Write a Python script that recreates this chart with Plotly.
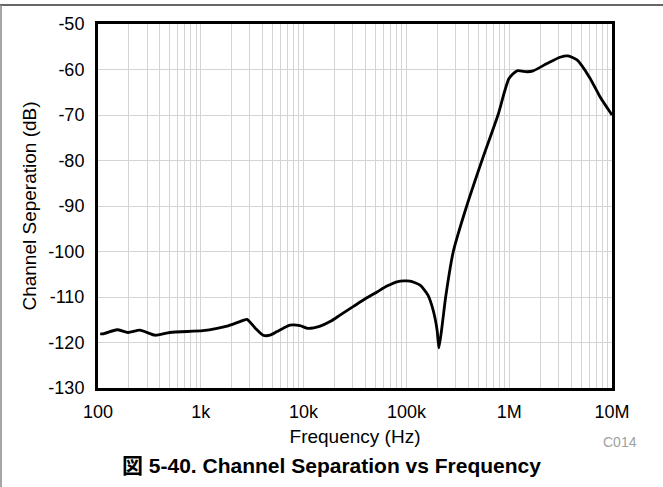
import plotly.graph_objects as go

freq_hz = [105, 112, 153, 196, 256, 358, 501, 1050, 1440, 1800, 2400, 2810, 3370,
           4030, 4710, 5510, 6310, 7380, 9230, 11000, 14500, 18100, 22600, 30300,
           37800, 51800, 64700, 82800, 108000, 136000, 162000, 182000, 199000,
           207000, 222000, 241000, 286000, 386000, 543000, 778000, 995000,
           1190000, 1490000, 1710000, 2330000, 3120000, 3730000, 4570000,
           6110000, 7640000, 10000000]
sep_db = [-118.1, -118.1, -117.2, -117.8, -117.3, -118.4, -117.8, -117.4, -116.9,
          -116.4, -115.4, -114.9, -116.8, -118.4, -118.4, -117.6, -116.9, -116.2,
          -116.3, -116.9, -116.4, -115.4, -114.0, -112.1, -110.7, -108.9, -107.6,
          -106.6, -106.5, -107.4, -109.6, -112.9, -117.3, -121.2, -116.5, -110.0,
          -100.0, -90.0, -80.0, -70.0, -62.0, -60.3, -60.5, -60.3,
          -58.7, -57.3, -57.0, -57.9, -61.9, -66.0, -70.0]

x_tick_vals = [100, 1000, 10000, 100000, 1000000, 10000000]
x_tick_text = ["100", "1k", "10k", "100k", "1M", "10M"]
y_tick_vals = [-50, -60, -70, -80, -90, -100, -110, -120, -130]
y_tick_text = ["-50", "-60", "-70", "-80", "-90", "-100", "-110", "-120", "-130"]

FONT = "Liberation Sans, Arial, sans-serif"
GRID = "#d4d4d4"

fig = go.Figure()
fig.add_trace(go.Scatter(x=freq_hz, y=sep_db, mode="lines",
                         line=dict(color="black", width=2.8, shape="spline", smoothing=0.6),
                         showlegend=False))

fig.update_layout(
    width=663, height=487,
    margin=dict(l=98, r=51, t=24, b=99),
    paper_bgcolor="white", plot_bgcolor="white",
    font=dict(family=FONT, size=18, color="black"),
    xaxis=dict(type="log", range=[2, 7], tickvals=x_tick_vals, ticktext=x_tick_text,
               showgrid=True, gridcolor=GRID, gridwidth=1,
               minor=dict(dtick="D1", showgrid=True, gridcolor=GRID, gridwidth=1, ticks=""),
               showline=True, linecolor="black", linewidth=3, mirror=True,
               ticks="", ticklabelstandoff=5, tickfont=dict(size=18),
               title=dict(text="Frequency (Hz)", standoff=10, font=dict(size=19)),
               zeroline=False),
    yaxis=dict(range=[-130, -50], tickvals=y_tick_vals, ticktext=y_tick_text,
               showgrid=True, gridcolor=GRID, gridwidth=1,
               showline=True, linecolor="black", linewidth=3, mirror=True,
               ticks="", ticklabelstandoff=7, tickfont=dict(size=18),
               title=dict(text="Channel Seperation (dB)", standoff=7, font=dict(size=19)),
               zeroline=False),
    shapes=[
        dict(type="line", xref="paper", yref="paper", x0=-0.2, x1=1.1, y0=1.052, y1=1.052,
             line=dict(color="#333333", width=1.5)),
        dict(type="line", xref="paper", yref="paper", x0=-0.1887, x1=-0.1887, y0=1.052, y1=-0.3,
             line=dict(color="#888888", width=1.5)),
    ],
    annotations=[
        dict(text="C014", xref="paper", yref="paper", x=(620 - 98) / 514, y=(388 - 442) / 364,
             showarrow=False, font=dict(size=14, color="#a0a0a0"), xanchor="center", yanchor="middle"),
        dict(text="<b>図 5-40. Channel Separation vs Frequency</b>", xref="paper", yref="paper",
             x=(331 - 98) / 514, y=(388 - 466) / 364, showarrow=False,
             font=dict(size=21, color="black", family="Liberation Sans, Noto Sans CJK JP, sans-serif"),
             xanchor="center", yanchor="middle"),
    ],
)

fig.write_html("out.html", config={"displayModeBar": False},
               post_script="document.body.style.margin='0';document.body.style.overflow='hidden';")
